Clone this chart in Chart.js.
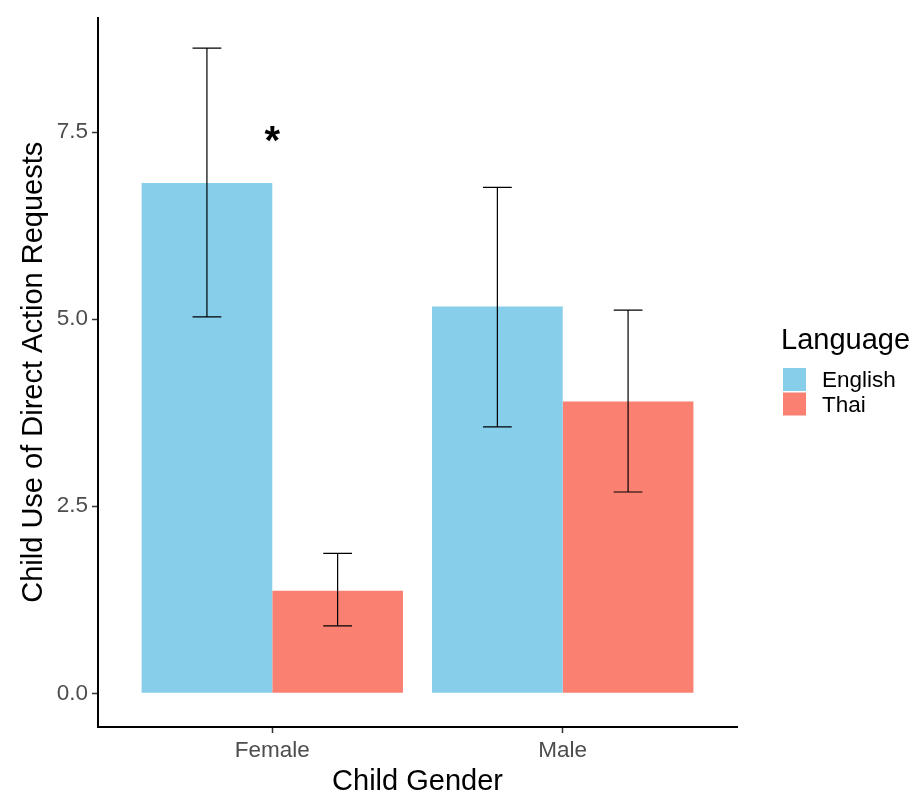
<!DOCTYPE html>
<html>
<head>
<meta charset="utf-8">
<script src="https://cdn.jsdelivr.net/npm/chart.js@4.4.1/dist/chart.umd.min.js"></script>
<style>
  html, body { margin: 0; padding: 0; background: #fff; }
  #wrap { position: relative; width: 916px; height: 793px; }
</style>
</head>
<body>
<div id="wrap"><canvas id="myChart" width="916" height="793"></canvas></div>
<script>
const genders = ['Female', 'Male']
const languages = ['English', 'Thai']
const englishMeans = [6.82, 5.17]
const thaiMeans = [1.37, 3.90]
const englishLow = [5.03, 3.56]
const englishHigh = [8.62, 6.76]
const thaiLow = [0.90, 2.69]
const thaiHigh = [1.87, 5.12]
const yTicks = [0, 2.5, 5, 7.5]
const colors = ['#87CEEB', '#FA8072']

const FONT = '"Liberation Sans", Arial, sans-serif'
const toPoints = vals => vals.map((v, i) => ({ x: i + 1, y: v }))

// error bars + asterisk + legend drawn over the bars
const extras = {
    id: 'extras',
    afterDatasetsDraw(chart) {
        const ctx = chart.ctx
        const y = chart.scales.y
        const lows = [englishLow, thaiLow]
        const highs = [englishHigh, thaiHigh]
        ctx.save()
        ctx.strokeStyle = '#000'
        ctx.lineWidth = 1.2
        chart.data.datasets.forEach((ds, di) => {
            const meta = chart.getDatasetMeta(di)
            meta.data.forEach((bar, i) => {
                const cx = bar.x
                const half = bar.width * 0.11
                const top = y.getPixelForValue(highs[di][i])
                const bot = y.getPixelForValue(lows[di][i])
                ctx.beginPath()
                ctx.moveTo(cx, top); ctx.lineTo(cx, bot)
                ctx.moveTo(cx - half, top); ctx.lineTo(cx + half, top)
                ctx.moveTo(cx - half, bot); ctx.lineTo(cx + half, bot)
                ctx.stroke()
            })
        })
        // significance star
        const sx = chart.scales.x.getPixelForValue(1)
        ctx.fillStyle = '#000'
        ctx.font = 'bold 40px ' + FONT
        ctx.textAlign = 'center'
        ctx.textBaseline = 'middle'
        ctx.fillText('*', sx, y.getPixelForValue(7.35))

        // legend
        ctx.textAlign = 'left'
        ctx.font = '29px ' + FONT
        ctx.fillText('Language', 781, 341)
        ctx.font = '22.5px ' + FONT
        languages.forEach((lab, i) => {
            ctx.fillStyle = colors[i]
            ctx.fillRect(783, 368 + i * 24.5, 23, 23)
            ctx.fillStyle = '#000'
            ctx.fillText(lab, 822, 381 + i * 24.5)
        })
        ctx.restore()
    }
}

const ctx = document.querySelector('#myChart').getContext('2d')

const myChart = new Chart(ctx, {
    type: 'bar',
    data: {
        datasets: [
            { label: languages[0], data: toPoints(englishMeans), backgroundColor: colors[0] },
            { label: languages[1], data: toPoints(thaiMeans), backgroundColor: colors[1] }
        ]
    },
    options: {
        responsive: false,
        animation: false,
        layout: { padding: { left: 0, right: 179, top: 11, bottom: 0 } },
        datasets: { bar: { categoryPercentage: 0.9, barPercentage: 1.0 } },
        plugins: { legend: { display: false }, tooltip: { enabled: false } },
        scales: {
            x: {
                type: 'linear',
                min: 0.4,
                max: 2.6,
                offset: false,
                afterBuildTicks: axis => { axis.ticks = [{ value: 1 }, { value: 2 }] },
                afterFit: axis => { axis.height = 66 },
                ticks: {
                    callback: v => genders[v - 1],
                    color: '#4d4d4d',
                    font: { size: 22.5, family: FONT },
                    padding: 4,
                    maxRotation: 0
                },
                grid: { display: true, offset: false, drawOnChartArea: false, tickLength: 6, tickColor: '#333', tickWidth: 1.5 },
                border: { display: true, color: '#000', width: 2 },
                title: {
                    display: true,
                    text: 'Child Gender',
                    color: '#000',
                    font: { size: 29, family: FONT },
                    padding: { top: 0, bottom: -6 }
                }
            },
            y: {
                min: -0.45,
                max: 9.03,
                afterBuildTicks: axis => { axis.ticks = yTicks.map(v => ({ value: v })) },
                afterFit: axis => { axis.width = 98 },
                ticks: {
                    callback: v => v.toFixed(1),
                    color: '#4d4d4d',
                    font: { size: 22.5, family: FONT },
                    padding: 4
                },
                grid: { drawOnChartArea: false, tickLength: 6, tickColor: '#333', tickWidth: 1.5 },
                border: { display: true, color: '#000', width: 2 },
                title: {
                    display: true,
                    text: 'Child Use of Direct Action Requests',
                    color: '#000',
                    font: { size: 29, family: FONT },
                    padding: { top: 17, bottom: 0 }
                }
            }
        }
    },
    plugins: [extras]
})
</script>
</body>
</html>
